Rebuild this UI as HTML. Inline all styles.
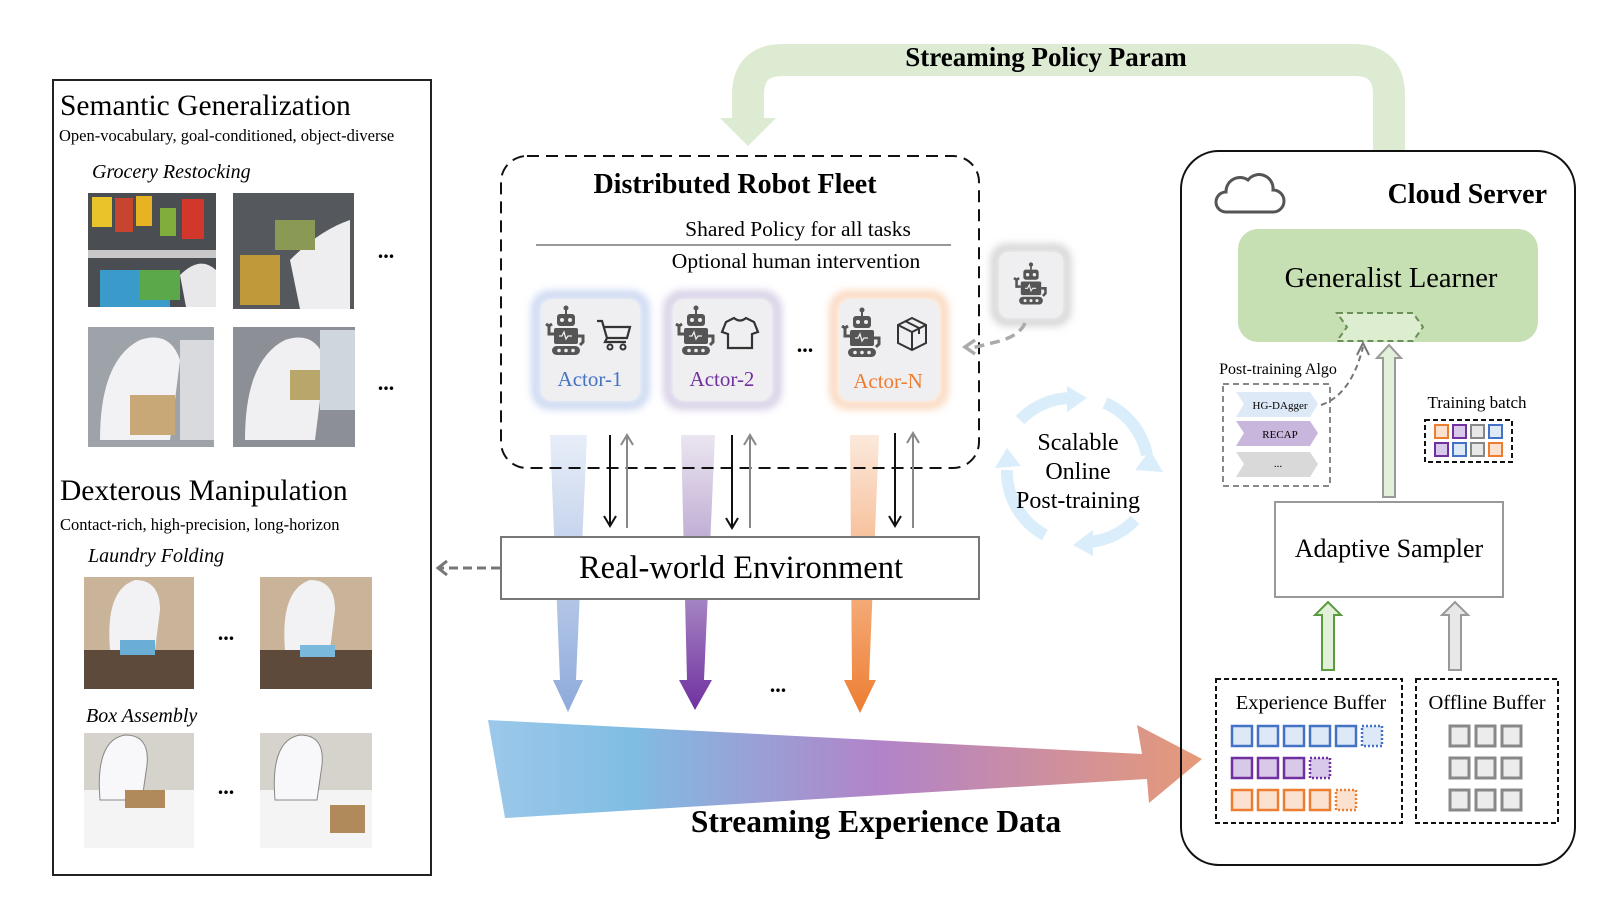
<!DOCTYPE html>
<html><head><meta charset="utf-8"><style>
body{margin:0;background:#fff;}
svg text{font-family:"Liberation Serif",serif;}
</style></head><body>
<svg width="1617" height="897" viewBox="0 0 1617 897" xmlns="http://www.w3.org/2000/svg">
<defs>
<linearGradient id="big" x1="0" y1="0" x2="1" y2="0">
<stop offset="0" stop-color="#9cc8ea"/><stop offset="0.2" stop-color="#80bde3"/><stop offset="0.55" stop-color="#b283c8"/><stop offset="1" stop-color="#e69a78"/></linearGradient>
<linearGradient id="gb" x1="0" y1="0" x2="0" y2="1"><stop offset="0" stop-color="#e8eef8"/><stop offset="1" stop-color="#8eaadb"/></linearGradient>
<linearGradient id="gp" x1="0" y1="0" x2="0" y2="1"><stop offset="0" stop-color="#ebe6f0"/><stop offset="0.45" stop-color="#b8a3cf"/><stop offset="1" stop-color="#7030a0"/></linearGradient>
<linearGradient id="go" x1="0" y1="0" x2="0" y2="1"><stop offset="0" stop-color="#fbe9dc"/><stop offset="0.5" stop-color="#f6b487"/><stop offset="1" stop-color="#ed7d31"/></linearGradient>
<filter id="blur" x="-20%" y="-20%" width="140%" height="140%"><feGaussianBlur stdDeviation="4"/></filter>
<g id="robot" fill="#555">
<circle cx="0" cy="-30" r="2.5"/><rect x="-1" y="-29" width="2" height="5"/>
<rect x="-9" y="-24" width="18" height="12" rx="3"/><circle cx="-4" cy="-18" r="2" fill="#eee"/><circle cx="4" cy="-18" r="2" fill="#eee"/>
<rect x="-12" y="-10" width="24" height="16" rx="2"/>
<path d="M-7,-2 h3 l2,-4 l2,7 l2,-3 h4" stroke="#eee" stroke-width="1.3" fill="none"/>
<path d="M-12,-4 h-5 v-8 M-20,-14 l3,2 l3,-2" stroke="#555" stroke-width="3" fill="none"/>
<path d="M12,-2 h5 v6 l-3,3" stroke="#555" stroke-width="3" fill="none"/>
<rect x="-14" y="8" width="28" height="9" rx="4.5"/>
<circle cx="-7" cy="12.5" r="1.8" fill="#eee"/><circle cx="0" cy="12.5" r="1.8" fill="#eee"/><circle cx="7" cy="12.5" r="1.8" fill="#eee"/>
</g>
</defs>

<!-- Top green band -->
<path d="M1389,152 V95 Q1389,60 1354,60 H783 Q748,60 748,95 V122" fill="none" stroke="#dcebd2" stroke-width="32"/>
<polygon points="720,118 776,118 748,146" fill="#dcebd2"/>
<text x="1046" y="66" font-size="27" font-weight="bold" text-anchor="middle">Streaming Policy Param</text>

<!-- Left panel -->
<rect x="53" y="80" width="378" height="795" fill="#fff" stroke="#222" stroke-width="2"/>
<text x="60" y="115" font-size="29.5">Semantic Generalization</text>
<text x="59" y="141" font-size="16.5">Open-vocabulary, goal-conditioned, object-diverse</text>
<text x="92" y="178" font-size="20" font-style="italic">Grocery Restocking</text>
<rect x="88" y="193" width="128" height="114" fill="#4a4d52"/>
<rect x="92" y="197" width="20" height="30" fill="#e8c32a"/><rect x="115" y="198" width="18" height="34" fill="#c7452e"/><rect x="136" y="196" width="16" height="30" fill="#e6b422"/><rect x="160" y="208" width="16" height="28" fill="#7fae3c"/><rect x="182" y="199" width="22" height="40" fill="#d3362b"/>
<rect x="88" y="250" width="128" height="8" fill="#c8c8c8"/><rect x="100" y="270" width="70" height="37" fill="#3a9ac9"/><rect x="140" y="270" width="40" height="30" fill="#5aa84a"/><path d="M180,275 q20,-20 36,-5 v37 h-30z" fill="#e8e8ea"/>
<rect x="233" y="193" width="121" height="116" fill="#55585c"/><path d="M290,260 q30,-30 60,-40 v89 h-50z" fill="#eeeef0"/><rect x="240" y="255" width="40" height="50" fill="#c09a3a"/><rect x="275" y="220" width="40" height="30" fill="#8a9a55"/>
<rect x="88" y="327" width="126" height="120" fill="#9ea3aa"/><path d="M100,440 q0,-80 40,-100 q30,-10 40,20 l-10,80z" fill="#f2f2f4"/><rect x="130" y="395" width="45" height="40" fill="#c9a878"/><rect x="180" y="340" width="34" height="100" fill="#d8dadd"/>
<rect x="233" y="327" width="122" height="120" fill="#8c9096"/><path d="M245,440 q0,-80 40,-100 q30,-10 40,20 l-10,80z" fill="#f0f0f2"/><rect x="290" y="370" width="40" height="30" fill="#b8a66a"/><rect x="320" y="330" width="35" height="80" fill="#cfd6dc"/>
<text x="386" y="258" font-size="22" font-weight="bold" text-anchor="middle">...</text>
<text x="386" y="390" font-size="22" font-weight="bold" text-anchor="middle">...</text>
<text x="60" y="500" font-size="29.5">Dexterous Manipulation</text>
<text x="60" y="530" font-size="16.5">Contact-rich, high-precision, long-horizon</text>
<text x="88" y="562" font-size="20" font-style="italic">Laundry Folding</text>
<rect x="84" y="577" width="110" height="112" fill="#c9b49a"/><rect x="84" y="650" width="110" height="39" fill="#5e4a3a"/><path d="M110,650 q-5,-60 25,-70 q25,0 25,30 l-5,40z" fill="#f2f2f4"/><rect x="120" y="640" width="35" height="15" fill="#6aaed6"/>
<rect x="260" y="577" width="112" height="112" fill="#c9b49a"/><rect x="260" y="650" width="112" height="39" fill="#5e4a3a"/><path d="M285,650 q-5,-60 25,-70 q25,0 25,30 l-5,40z" fill="#f2f2f4"/><rect x="300" y="645" width="35" height="12" fill="#7ab8dc"/>
<text x="226" y="640" font-size="22" font-weight="bold" text-anchor="middle">...</text>
<text x="86" y="722" font-size="20" font-style="italic">Box Assembly</text>
<rect x="84" y="733" width="110" height="115" fill="#d6d2cc"/><rect x="84" y="790" width="110" height="58" fill="#f4f4f4"/><path d="M100,800 q-5,-60 25,-65 q25,0 22,30 l-5,35z" fill="#f8f8fa" stroke="#888"/><rect x="125" y="790" width="40" height="18" fill="#b08a5a"/>
<rect x="260" y="733" width="112" height="115" fill="#d6d2cc"/><rect x="260" y="790" width="112" height="58" fill="#f4f4f4"/><path d="M275,800 q-5,-60 25,-65 q25,0 22,30 l-5,35z" fill="#f8f8fa" stroke="#888"/><rect x="330" y="805" width="35" height="28" fill="#b08a5a"/>
<text x="226" y="794" font-size="22" font-weight="bold" text-anchor="middle">...</text>

<!-- color bands -->
<polygon points="550,435 587,435 576,680 583,680 568,712 553,680 560,680" fill="url(#gb)"/>
<polygon points="681,435 715,435 704,680 712,680 695,710 679,680 687,680" fill="url(#gp)"/>
<polygon points="850,435 879,435 869,680 876,680 860,713 844,680 852,680" fill="url(#go)"/>

<!-- Fleet box -->
<rect x="501" y="156" width="478" height="312" rx="26" fill="none" stroke="#111" stroke-width="2" stroke-dasharray="12,7"/>
<text x="735" y="193" font-size="28" font-weight="bold" text-anchor="middle">Distributed Robot Fleet</text>
<text x="798" y="236" font-size="21.5" text-anchor="middle">Shared Policy for all tasks</text>
<line x1="536" y1="245" x2="951" y2="245" stroke="#999" stroke-width="2"/>
<text x="796" y="268" font-size="21.5" text-anchor="middle">Optional human intervention</text>

<!-- actor cards -->
<rect x="536" y="295" width="109" height="110" rx="14" fill="none" stroke="#c9d6f0" stroke-width="9" filter="url(#blur)"/>
<rect x="541" y="299" width="99" height="102" rx="12" fill="#efeff1"/>
<use href="#robot" transform="translate(566,338)"/>
<path d="M597,321 h5 l5,17 h20 l3,-11 h-26 M607,338 l-2,4 h21" stroke="#333" stroke-width="2.2" fill="none"/><circle cx="610" cy="347" r="2.5" fill="none" stroke="#333" stroke-width="2"/><circle cx="623" cy="347" r="2.5" fill="none" stroke="#333" stroke-width="2"/>
<text x="590" y="386" font-size="21" fill="#4472c4" text-anchor="middle">Actor-1</text>

<rect x="668" y="295" width="109" height="110" rx="14" fill="none" stroke="#d4cce4" stroke-width="9" filter="url(#blur)"/>
<rect x="673" y="299" width="99" height="102" rx="12" fill="#efeff1"/>
<use href="#robot" transform="translate(696,338)"/>
<path d="M734,318 l-8,4 l-4,10 l6,2 v14 h24 v-14 l6,-2 l-4,-10 l-8,-4 q-6,5 -12,0z" stroke="#333" stroke-width="2.2" fill="none"/>
<text x="722" y="386" font-size="21" fill="#7030a0" text-anchor="middle">Actor-2</text>
<text x="805" y="352" font-size="22" font-weight="bold" text-anchor="middle">...</text>

<rect x="834" y="295" width="110" height="110" rx="14" fill="none" stroke="#fad7bd" stroke-width="9" filter="url(#blur)"/>
<rect x="839" y="299" width="100" height="102" rx="12" fill="#efeff1"/>
<use href="#robot" transform="translate(862,340)"/>
<path d="M898,325 l14,-7 l14,7 v18 l-14,7 l-14,-7z M898,325 l14,7 l14,-7 M912,332 v18 M905,321 l14,7 v6" stroke="#333" stroke-width="2" fill="none"/>
<text x="888" y="388" font-size="21" fill="#ed7d31" text-anchor="middle">Actor-N</text>

<!-- extra robot -->
<rect x="995" y="248" width="72" height="74" rx="12" fill="none" stroke="#d0d0d0" stroke-width="8" filter="url(#blur)"/>
<rect x="999" y="252" width="64" height="66" rx="10" fill="#efeff1"/>
<use href="#robot" transform="translate(1031,290) scale(0.85)"/>
<path d="M1025,323 q-5,12 -25,18 l-28,7" fill="none" stroke="#aaa" stroke-width="3.5" stroke-dasharray="10,6"/>
<path d="M975,340 l-10,7 l10,7" fill="none" stroke="#aaa" stroke-width="3.5"/>

<!-- double arrows -->
<g stroke-width="2" fill="none">
<line x1="610" y1="435" x2="610" y2="524" stroke="#111"/><path d="M604,516 l6,10 l6,-10" stroke="#111"/>
<line x1="627" y1="528" x2="627" y2="437" stroke="#888"/><path d="M621,445 l6,-10 l6,10" stroke="#888"/>
<line x1="732" y1="435" x2="732" y2="526" stroke="#111"/><path d="M726,518 l6,10 l6,-10" stroke="#111"/>
<line x1="750" y1="528" x2="750" y2="437" stroke="#888"/><path d="M744,445 l6,-10 l6,10" stroke="#888"/>
<line x1="895" y1="433" x2="895" y2="524" stroke="#111"/><path d="M889,516 l6,10 l6,-10" stroke="#111"/>
<line x1="913" y1="528" x2="913" y2="435" stroke="#888"/><path d="M907,443 l6,-10 l6,10" stroke="#888"/>
</g>

<!-- Env -->
<rect x="501" y="537" width="478" height="62" fill="#fff" stroke="#777" stroke-width="2"/>
<text x="741" y="578" font-size="32.5" text-anchor="middle">Real-world Environment</text>
<line x1="500" y1="568" x2="440" y2="568" stroke="#777" stroke-width="3" stroke-dasharray="9,5"/>
<path d="M447,561 l-9,7 l9,7" stroke="#777" stroke-width="3" fill="none"/>
<text x="778" y="692" font-size="22" font-weight="bold" text-anchor="middle">...</text>

<!-- big arrow -->
<polygon points="488,720 1142,754 1137,725 1202,759 1149,803 1147,779 505,818" fill="url(#big)"/>
<text x="876" y="832" font-size="31.5" font-weight="bold" text-anchor="middle">Streaming Experience Data</text>

<!-- scalable circle -->
<g transform="translate(-5,0)">
<g fill="none" stroke="#d9eefa" stroke-width="12">
<path d="M1025,420 A72,72 0 0 1 1075,398"/>
<path d="M1110,403 A72,72 0 0 1 1152,455"/>
<path d="M1140,520 A72,72 0 0 1 1095,542"/>
<path d="M1050,535 A72,72 0 0 1 1012,470"/>
</g>
<g fill="#d9eefa">
<polygon points="1072,386 1092,398 1072,412"/>
<polygon points="1140,470 1155,450 1168,472"/>
<polygon points="1098,530 1078,545 1098,556"/>
<polygon points="1000,468 1012,448 1026,466"/>
</g>
<text x="1083" y="450" font-size="24" text-anchor="middle">Scalable</text>
<text x="1083" y="479" font-size="24" text-anchor="middle">Online</text>
<text x="1083" y="508" font-size="24" text-anchor="middle">Post-training</text>
</g>

<!-- Cloud server -->
<rect x="1181" y="151" width="394" height="714" rx="38" fill="none" stroke="#111" stroke-width="2"/>
<path d="M1226,212 a10,10 0 0 1 0,-20 a14,14 0 0 1 22,-12 a14,14 0 0 1 25,10 a11,11 0 0 1 0,22z" fill="none" stroke="#555" stroke-width="3"/>
<text x="1547" y="203" font-size="28" font-weight="bold" text-anchor="end">Cloud Server</text>
<rect x="1238" y="229" width="300" height="113" rx="20" fill="#c6e0b4"/>
<text x="1391" y="287" font-size="28.5" text-anchor="middle">Generalist Learner</text>
<polygon points="1337,313 1413,313 1423,327 1413,341 1337,341 1347,327" fill="#dcedd0" stroke="#6a8f58" stroke-width="2" stroke-dasharray="6,4"/>
<text x="1278" y="374" font-size="16" text-anchor="middle">Post-training Algo</text>
<rect x="1223" y="384" width="107" height="102" fill="none" stroke="#888" stroke-width="2" stroke-dasharray="6,4"/>
<polygon points="1236,392 1310,392 1318,404 1310,417 1236,417 1244,404" fill="#dde9f6"/>
<text x="1280" y="409" font-size="11" text-anchor="middle">HG-DAgger</text>
<polygon points="1236,421 1310,421 1318,433 1310,446 1236,446 1244,433" fill="#c9b6dc"/>
<text x="1280" y="438" font-size="11" text-anchor="middle">RECAP</text>
<polygon points="1236,452 1310,452 1318,464 1310,477 1236,477 1244,464" fill="#d9d9d9"/>
<text x="1278" y="467" font-size="11" text-anchor="middle">...</text>
<path d="M1321,405 q30,-10 42,-58" fill="none" stroke="#777" stroke-width="2" stroke-dasharray="6,4"/>
<path d="M1357,355 l6,-12 l6,12" fill="none" stroke="#777" stroke-width="2"/>
<polygon points="1383,497 1383,358 1377,358 1389,345 1401,358 1395,358 1395,497" fill="#e2efd9" stroke="#999" stroke-width="2"/>
<text x="1477" y="408" font-size="17" text-anchor="middle">Training batch</text>
<rect x="1425" y="420" width="87" height="42" fill="none" stroke="#111" stroke-width="2" stroke-dasharray="5,3"/>
<g stroke-width="2">
<rect x="1435" y="425" width="13" height="13" fill="#fbe1cf" stroke="#ed7d31"/><rect x="1453" y="425" width="13" height="13" fill="#d9c9e8" stroke="#7030a0"/><rect x="1471" y="425" width="13" height="13" fill="#e8e8e8" stroke="#888"/><rect x="1489" y="425" width="13" height="13" fill="#dde9f6" stroke="#4472c4"/>
<rect x="1435" y="443" width="13" height="13" fill="#d9c9e8" stroke="#7030a0"/><rect x="1453" y="443" width="13" height="13" fill="#dde9f6" stroke="#4472c4"/><rect x="1471" y="443" width="13" height="13" fill="#e8e8e8" stroke="#888"/><rect x="1489" y="443" width="13" height="13" fill="#fbe1cf" stroke="#ed7d31"/>
</g>
<rect x="1275" y="502" width="228" height="95" fill="#fff" stroke="#999" stroke-width="2"/>
<text x="1389" y="557" font-size="26" text-anchor="middle">Adaptive Sampler</text>
<polygon points="1322,670 1322,615 1315,615 1328,602 1341,615 1334,615 1334,670" fill="#e2efd9" stroke="#5a9a40" stroke-width="2"/>
<polygon points="1449,670 1449,615 1442,615 1455,602 1468,615 1461,615 1461,670" fill="#e8e8e8" stroke="#999" stroke-width="2"/>
<rect x="1216" y="679" width="186" height="144" fill="none" stroke="#111" stroke-width="2" stroke-dasharray="5,3"/>
<text x="1311" y="709" font-size="20.5" text-anchor="middle">Experience Buffer</text>
<rect x="1416" y="679" width="142" height="144" fill="none" stroke="#111" stroke-width="2" stroke-dasharray="5,3"/>
<text x="1487" y="709" font-size="20.5" text-anchor="middle">Offline Buffer</text>
<g stroke-width="2.5">
<rect x="1232" y="726" width="20" height="20" fill="#dde9f6" stroke="#4472c4"/><rect x="1258" y="726" width="20" height="20" fill="#dde9f6" stroke="#4472c4"/><rect x="1284" y="726" width="20" height="20" fill="#dde9f6" stroke="#4472c4"/><rect x="1310" y="726" width="20" height="20" fill="#dde9f6" stroke="#4472c4"/><rect x="1336" y="726" width="20" height="20" fill="#dde9f6" stroke="#4472c4"/><rect x="1362" y="726" width="20" height="20" fill="#dde9f6" stroke="#4472c4" stroke-dasharray="2,2"/>
<rect x="1232" y="758" width="20" height="20" fill="#d9c9e8" stroke="#7030a0"/><rect x="1258" y="758" width="20" height="20" fill="#d9c9e8" stroke="#7030a0"/><rect x="1284" y="758" width="20" height="20" fill="#d9c9e8" stroke="#7030a0"/><rect x="1310" y="758" width="20" height="20" fill="#d9c9e8" stroke="#7030a0" stroke-dasharray="2,2"/>
<rect x="1232" y="790" width="20" height="20" fill="#fbe1cf" stroke="#ed7d31"/><rect x="1258" y="790" width="20" height="20" fill="#fbe1cf" stroke="#ed7d31"/><rect x="1284" y="790" width="20" height="20" fill="#fbe1cf" stroke="#ed7d31"/><rect x="1310" y="790" width="20" height="20" fill="#fbe1cf" stroke="#ed7d31"/><rect x="1336" y="790" width="20" height="20" fill="#fbe1cf" stroke="#ed7d31" stroke-dasharray="2,2"/>
</g>
<g stroke-width="3" fill="#ececec" stroke="#888">
<rect x="1450" y="726" width="19" height="20"/><rect x="1476" y="726" width="19" height="20"/><rect x="1502" y="726" width="19" height="20"/>
<rect x="1450" y="758" width="19" height="20"/><rect x="1476" y="758" width="19" height="20"/><rect x="1502" y="758" width="19" height="20"/>
<rect x="1450" y="790" width="19" height="20"/><rect x="1476" y="790" width="19" height="20"/><rect x="1502" y="790" width="19" height="20"/>
</g>
</svg>
</body></html>
